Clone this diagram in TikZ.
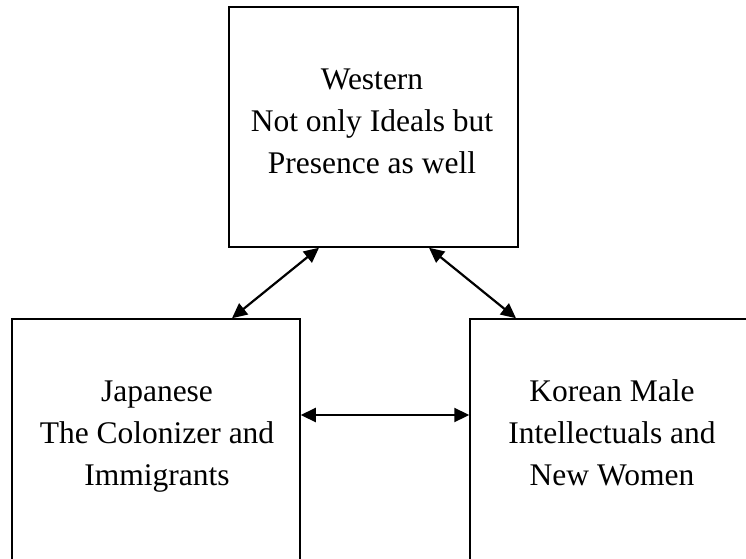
\documentclass[tikz,border=0pt]{standalone}
\usepackage{fontspec}
\setmainfont{Liberation Serif}
\usetikzlibrary{arrows.meta}
\begin{document}
\begin{tikzpicture}[x=1pt,y=1pt,
  box/.style={draw, line width=1.5pt, rectangle, inner sep=0pt},
  txt/.style={align=center, inner sep=0pt, font=\fontsize{31.5}{42}\selectfont},
  arr/.style={line width=2.2pt, {Triangle[length=15pt,width=14pt]}-{Triangle[length=15pt,width=14pt]}}
]
\useasboundingbox (0,0) rectangle (746,558);
\clip (0,0) rectangle (746,558);
\fill[white] (0,0) rectangle (746,558);
\node[box, minimum width=289pt, minimum height=240pt] (west) at (373.5,431) {};
\node[box, minimum width=288pt, minimum height=243pt] (japan) at (156,117.5) {};
\node[box, minimum width=286pt, minimum height=243pt] (korea) at (613,117.5) {};
\node[txt] (westtxt) at (372,436.5) {Western\\Not only Ideals but\\Presence as well};
\node[txt] (japantxt) at (157,121.5) {Japanese\\The Colonizer and\\Immigrants};
\node[txt] (koreatxt) at (612,125) {Korean Male\\Intellectuals and\\New Women};
\draw[arr] ([xshift=-54.5pt]west.south) -- ([xshift=76pt]japan.north);
\draw[arr] ([xshift=55.5pt]west.south) -- ([xshift=-97pt]korea.north);
\draw[arr] ([yshift=25.5pt]japan.east) -- ([yshift=25.5pt]korea.west);
\end{tikzpicture}
\end{document}
